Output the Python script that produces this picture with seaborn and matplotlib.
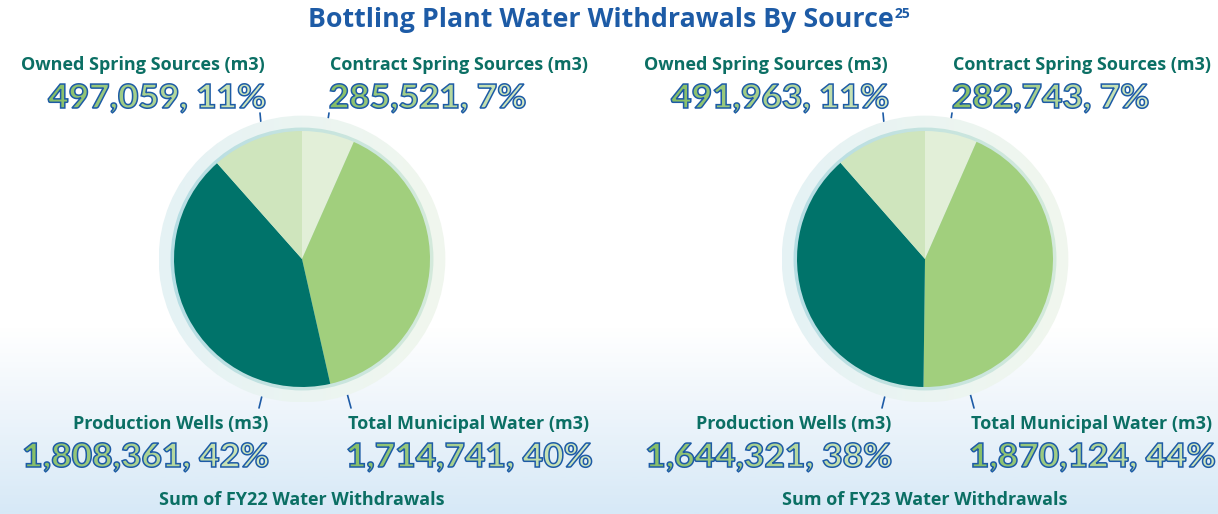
import numpy as np
import pandas as pd
import matplotlib
matplotlib.use('Agg')
import matplotlib.pyplot as plt
import seaborn as sns
from matplotlib.patches import Wedge, Circle, PathPatch
from matplotlib.textpath import TextPath
from matplotlib.font_manager import FontProperties
from matplotlib.colors import LinearSegmentedColormap
from matplotlib.transforms import Affine2D

# ---- data ----
sources = ['Contract Spring Sources', 'Total Municipal Water', 'Production Wells', 'Owned Spring Sources']
fy22 = [285521, 1714741, 1808361, 497059]
fy23 = [282743, 1870124, 1644321, 491963]
pct22 = [7, 40, 42, 11]
pct23 = [7, 44, 38, 11]
years = ['FY22', 'FY23']

slice_colors = ['#e2efd8', '#a1cf7d', '#00736a', '#cfe5bd']
TEAL = '#0b6f64'
BLUE = '#1d5ba6'

sns.set_theme(style='white')
plt.rcParams['font.family'] = ['Open Sans', 'DejaVu Sans']

W, H = 1218, 514
fig = plt.figure(figsize=(W / 100, H / 100), dpi=100)
bg = fig.add_axes([0, 0, 1, 1])
bg.set_xlim(0, W)
bg.set_ylim(H, 0)
bg.axis('off')

# sky gradient at the bottom
sky = LinearSegmentedColormap.from_list('sky', [(0, '#ffffff'), (0.64, '#ffffff'), (0.8, '#eef5fb'), (1, '#d7e9f7')])
grad = np.linspace(0, 1, 300)[:, None]
bg.imshow(grad, extent=[0, W, H, 0], origin='upper', aspect='auto', cmap=sky, zorder=0)

title = bg.text(308, 20, 'Bottling Plant Water Withdrawals By Source', ha='left', va='center',
                fontsize=19.3, fontweight='bold', color=BLUE)
renderer = fig.canvas.get_renderer()
tb = title.get_window_extent(renderer)
bg.text(tb.x1 + 1, 14, '25', ha='left', va='center', fontsize=10, fontweight='bold', color=BLUE)

num_font = FontProperties(family=['Lato', 'DejaVu Sans'], weight='black')
num_cmap = LinearSegmentedColormap.from_list('num', ['#86be66', '#d4e9c4'])


def big_number(x, y, s, align):
    tp = TextPath((0, 0), s, size=33, prop=num_font)
    sx = 1.07
    ext = tp.get_extents()
    width = (ext.x1 - ext.x0) * sx
    x0 = (x - width if align == 'right' else x) - ext.x0 * sx
    base = y + 12
    tr = Affine2D().scale(sx, -1).translate(x0, base) + bg.transData
    fill = PathPatch(tp, facecolor='none', edgecolor='none', transform=tr)
    bg.add_patch(fill)
    img = bg.imshow(np.linspace(0, 1, 100)[None, :], cmap=num_cmap, aspect='auto',
                    extent=[x0 + ext.x0 * sx, x0 + ext.x1 * sx, base + 10, base - ext.y1 - 2], zorder=3)
    img.set_clip_path(fill)
    bg.add_patch(PathPatch(tp, facecolor='none', edgecolor=BLUE, lw=1.1, transform=tr, zorder=4))


def label(x, y, name, value, pct, align):
    bg.text(x, y, name + ' (m3)', ha=align, va='center', fontsize=13, fontweight='bold', color=TEAL)
    big_number(x, y + 31, f'{value:,}, {pct}%', align)


centers = [302, 925]
CY, R = 259, 128
# label anchor offsets (dx, y, align) for each source
anchors = {
    'Owned Spring Sources': (-37, 65, 'right'),
    'Contract Spring Sources': (28, 65, 'left'),
    'Production Wells': (-34, 424, 'right'),
    'Total Municipal Water': (46, 424, 'left'),
}
leaders = [((-42, 113), (-39, 145)), ((27, 113), (22, 146)),
           ((-33, 367), (-43, 408)), ((38, 367), (49, 408))]

halo_cmap = LinearSegmentedColormap.from_list('halo', ['#e5f2f5', '#f1f7ee'])
rim_cmap = LinearSegmentedColormap.from_list('rim', ['#b6dde4', '#d4eadb'])

for cx, vals, pcts, yr in zip(centers, [fy22, fy23], [pct22, pct23], years):
    half = 1.2 * R
    ax = fig.add_axes([(cx - half) / W, (H - CY - half) / H, 2 * half / W, 2 * half / H])
    ax.set_xlim(-1.2, 1.2)
    ax.set_ylim(-1.2, 1.2)
    halo = Wedge((0, 0), 1.12, 0, 360, width=0.12, facecolor='none', edgecolor='none')
    ax.add_patch(halo)
    im = ax.imshow(np.linspace(0, 1, 100)[None, :], cmap=halo_cmap, extent=[-1.12, 1.12, -1.12, 1.12],
                   aspect='auto', zorder=1)
    im.set_clip_path(halo)
    rim = Circle((0, 0), 1.027, facecolor='none', edgecolor='none')
    ax.add_patch(rim)
    im2 = ax.imshow(np.linspace(0, 1, 100)[None, :], cmap=rim_cmap, extent=[-1.03, 1.03, -1.03, 1.03],
                    aspect='auto', zorder=1.5)
    im2.set_clip_path(rim)
    wedges, _ = ax.pie(vals, colors=slice_colors, startangle=90, counterclock=False, radius=1,
                       wedgeprops=dict(linewidth=0))
    for w in wedges:
        w.set_zorder(2)
    ax.set_xlim(-1.2, 1.2)
    ax.set_ylim(-1.2, 1.2)
    ax.set_aspect('equal')
    ax.axis('off')

    for name, v, p in zip(sources, vals, pcts):
        dx, y, al = anchors[name]
        label(cx + dx, y, name, v, p, al)
    for (a, b) in leaders:
        bg.plot([cx + a[0], cx + b[0]], [a[1], b[1]], color=BLUE, lw=1.2, zorder=5)
    bg.text(cx, 500, f'Sum of {yr} Water Withdrawals', ha='center', va='center',
            fontsize=13, fontweight='bold', color=TEAL)

fig.savefig('out.png', dpi=100)
